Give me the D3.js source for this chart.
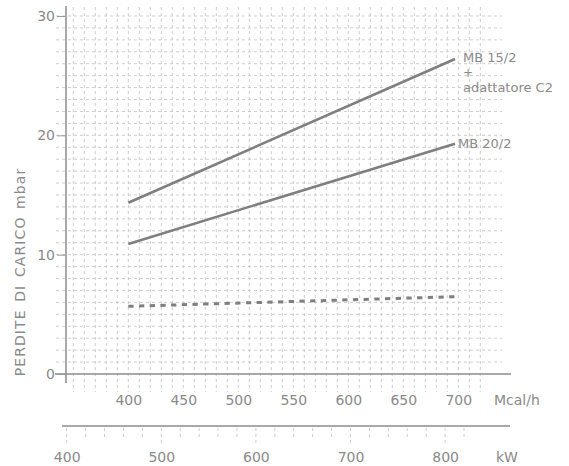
<!DOCTYPE html>
<html>
<head>
<meta charset="utf-8">
<script src="https://cdn.jsdelivr.net/npm/d3@7"></script>
<style>
  html, body { margin: 0; padding: 0; background: #fff; }
  svg { display: block; }
  text { font-family: "DejaVu Sans", sans-serif; fill: #8a8a8a; }
</style>
</head>
<body>
<svg id="chart" width="569" height="466"></svg>
<script>
// ---- data ----
const flowMcal = [400, 697];            // Mcal/h at line ends
const mb152 = [14.35, 26.4];            // MB 15/2 + adattatore C2 (mbar)
const mb202 = [10.9, 19.3];             // MB 20/2 (mbar)
const dashedSeries = [5.67, 6.48];      // dashed curve (mbar)
const yTicks = [0, 10, 20, 30];
const mcalTicks = [400, 450, 500, 550, 600, 650, 700];
const kwTicks = [400, 500, 600, 700, 800];
const kwToMcal = 0.86;

const svg = d3.select("#chart");
const x = d3.scaleLinear().domain([350, 720]).range([73.3, 480.3]);
const y = d3.scaleLinear().domain([0, 30]).range([374, 16]);
const xkw = d3.scaleLinear().domain([350 / kwToMcal, 720 / kwToMcal]).range([73.3, 480.3]);

const gridColor = "#cdcdcd";
// vertical grid
svg.append("g").selectAll("line").data(d3.range(350, 721, 10)).join("line")
  .attr("x1", d => x(d)).attr("x2", d => x(d))
  .attr("y1", 7).attr("y2", 392)
  .attr("stroke", gridColor).attr("stroke-width", 1).attr("stroke-dasharray", "3,3");
// horizontal grid
svg.append("g").selectAll("line").data(d3.range(1, 31, 1)).join("line")
  .attr("x1", 56).attr("x2", 502)
  .attr("y1", d => y(d)).attr("y2", d => y(d))
  .attr("stroke", gridColor).attr("stroke-width", 1).attr("stroke-dasharray", "3,3");

// axis lines
svg.append("line").attr("x1", 66).attr("x2", 66).attr("y1", 6).attr("y2", 383)
  .attr("stroke", "#8c8c8c").attr("stroke-width", 1.5);
svg.append("line").attr("x1", 55).attr("x2", 511).attr("y1", y(0)).attr("y2", y(0))
  .attr("stroke", "#8c8c8c").attr("stroke-width", 1.5);

// y axis
const yAxis = svg.append("g").attr("transform", "translate(66,0)")
  .call(d3.axisLeft(y).tickValues(yTicks).tickSize(9).tickPadding(2));
yAxis.select(".domain").remove();
yAxis.selectAll("line").attr("stroke", "#9a9a9a").attr("stroke-width", 1);
yAxis.selectAll("text").style("font-size", "14px").attr("fill", "#8a8a8a");

// Mcal axis labels
const xAxis = svg.append("g").attr("transform", `translate(0,${y(0)})`)
  .call(d3.axisBottom(x).tickValues(mcalTicks).tickSize(0).tickPadding(21));
xAxis.select(".domain").remove();
xAxis.selectAll("text").style("font-size", "14px").attr("fill", "#8a8a8a");
svg.append("text").attr("x", 494).attr("y", 405).style("font-size", "14px").text("Mcal/h");

// kW axis
svg.append("line").attr("x1", 62).attr("x2", 510).attr("y1", 426).attr("y2", 426)
  .attr("stroke", "#8c8c8c").attr("stroke-width", 1.5);
svg.append("g").selectAll("line").data(d3.range(400, 821, 20)).join("line")
  .attr("x1", d => xkw(d)).attr("x2", d => xkw(d))
  .attr("y1", 428).attr("y2", d => d % 100 === 0 ? 444 : 439)
  .attr("stroke", gridColor).attr("stroke-width", 1).attr("stroke-dasharray", "3,3");
const kwAxis = svg.append("g").attr("transform", "translate(0,426)")
  .call(d3.axisBottom(xkw).tickValues(kwTicks).tickSize(0).tickPadding(26));
kwAxis.select(".domain").remove();
kwAxis.selectAll("text").style("font-size", "14px").attr("fill", "#8a8a8a");
svg.append("text").attr("x", 496).attr("y", 462).style("font-size", "14px").text("kW");

// y axis title
svg.append("text")
  .attr("transform", "translate(25,272) rotate(-90)")
  .attr("text-anchor", "middle")
  .style("font-size", "14px").style("letter-spacing", "1.1px").style("word-spacing", "2px")
  .text("PERDITE DI CARICO mbar");

// series lines
const line = d3.line().x(d => x(d[0])).y(d => y(d[1]));
const lineColor = "#7f7f7f";
svg.append("path").datum(flowMcal.map((f, i) => [f, mb152[i]]))
  .attr("d", line).attr("fill", "none").attr("stroke", lineColor).attr("stroke-width", 2.6);
svg.append("path").datum(flowMcal.map((f, i) => [f, mb202[i]]))
  .attr("d", line).attr("fill", "none").attr("stroke", lineColor).attr("stroke-width", 2.6);
svg.append("path").datum(flowMcal.map((f, i) => [f, dashedSeries[i]]))
  .attr("d", line).attr("fill", "none").attr("stroke", lineColor).attr("stroke-width", 3)
  .attr("stroke-dasharray", "5.3,5.4");

// annotations
svg.append("text").attr("x", 463).attr("y", 62).style("font-size", "13px").text("MB 15/2");
svg.append("text").attr("x", 463).attr("y", 77).style("font-size", "12px").text("+");
svg.append("text").attr("x", 463).attr("y", 92).style("font-size", "13px").text("adattatore C2");
svg.append("text").attr("x", 458).attr("y", 148).style("font-size", "13px").text("MB 20/2");
</script>
</body>
</html>
